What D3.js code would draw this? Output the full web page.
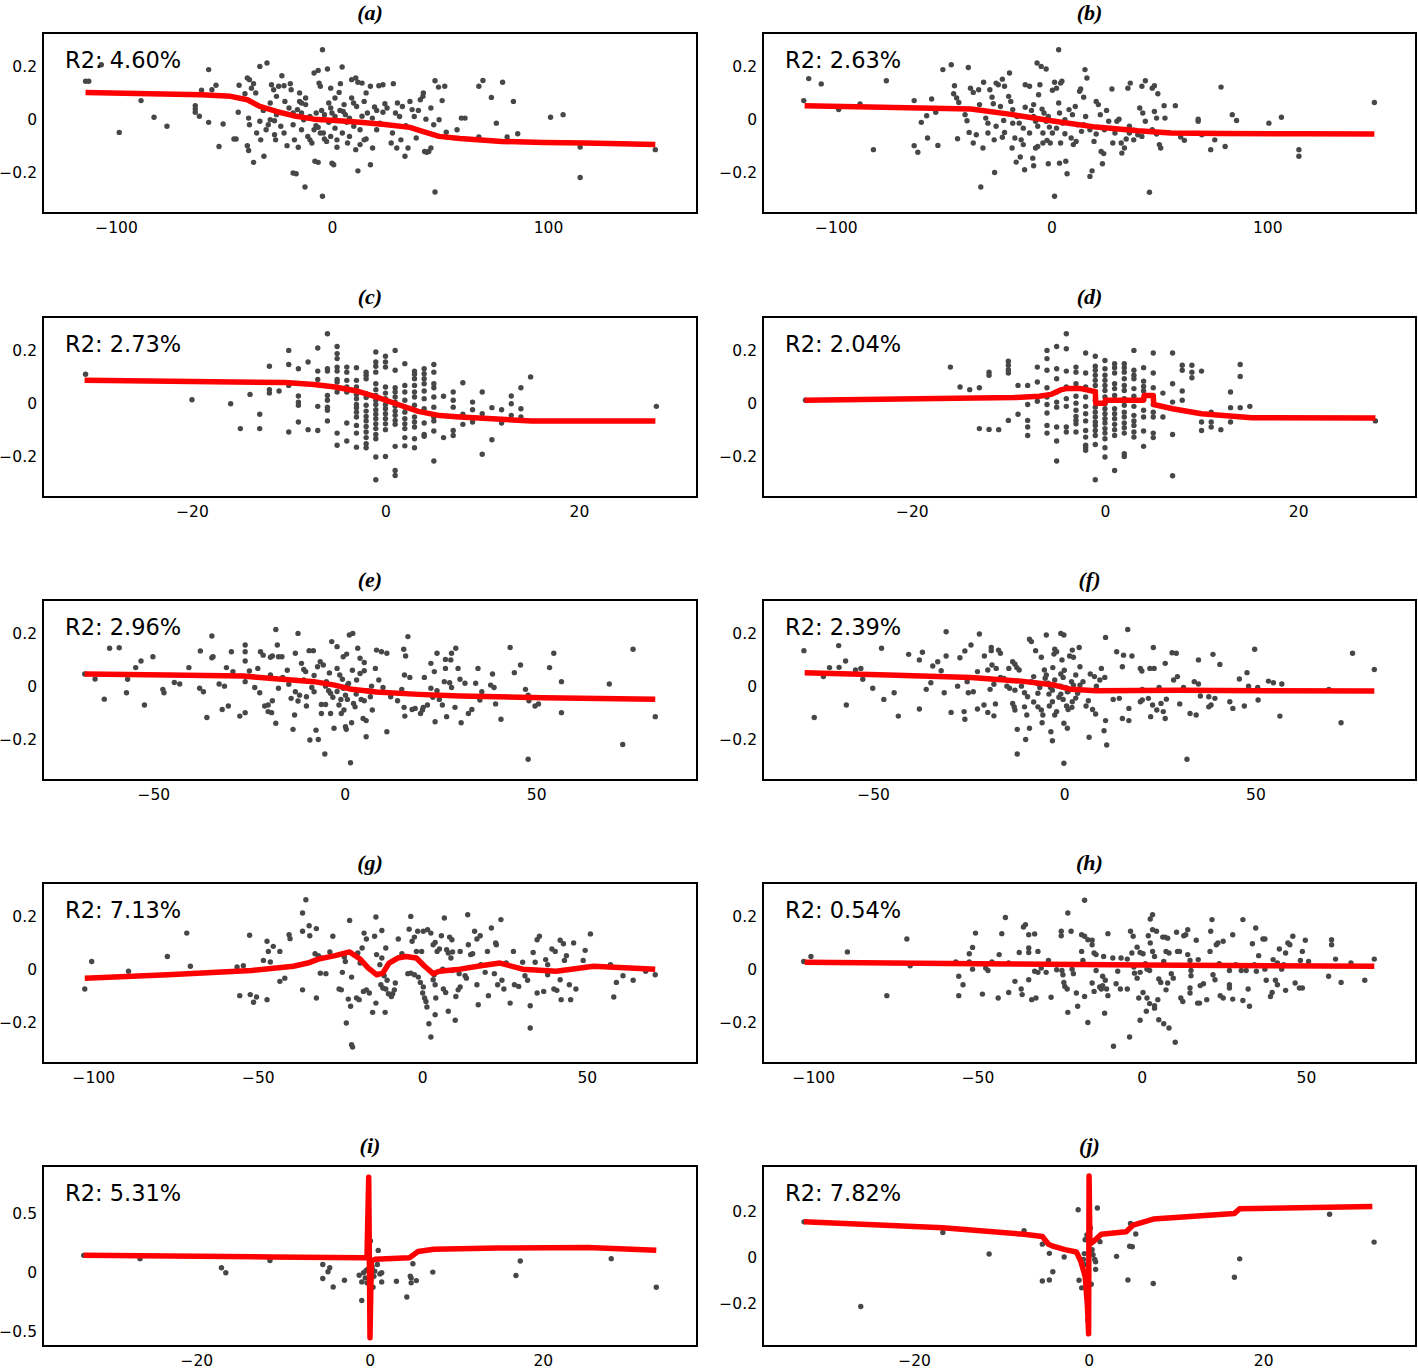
<!DOCTYPE html>
<html><head><meta charset="utf-8">
<script src="https://cdn.jsdelivr.net/npm/d3@7"></script>
<style>body{margin:0;background:#fff}</style>
</head><body>
<script>
// ---------------- DATA ----------------
const titles = ["(a)","(b)","(c)","(d)","(e)","(f)","(g)","(h)","(i)","(j)"];
const r2Labels = ["R2: 4.60%","R2: 2.63%","R2: 2.73%","R2: 2.04%","R2: 2.96%","R2: 2.39%","R2: 7.13%","R2: 0.54%","R2: 5.31%","R2: 7.82%"];

const xTicksAB = [-100, 0, 100];
const xTicksCD = [-20, 0, 20];
const xTicksEF = [-50, 0, 50];
const xTicksGH = [-100, -50, 0, 50];
const xTicksIJ = [-20, 0, 20];
const yTicksMain = [-0.2, 0, 0.2];
const yTicksI = [-0.5, 0, 0.5];
const yTicksJ = [-0.2, 0, 0.2];

const xDomainAB = [-133.8, 169];
const xDomainCD = [-35.4, 32.2];
const xDomainEF = [-78.8, 92];
const xDomainGH = [-115.3, 83.5];
const xDomainI = [-37.7, 37.8];
const xDomainJ = [-37.3, 37.5];
const yDomainMain = [-0.354, 0.325];
const yDomainI = [-0.62, 0.905];
const yDomainJ = [-0.383, 0.4];

const pointsA = [[-114.1,0.143],[-112.6,0.143],[-106.8,0.205],[-98.5,-0.050],[-88.4,0.070],[-82.4,0.007],[-76.4,-0.027],
[-63.3,0.051],[-63.3,0.038],[-63.3,0.026],[-61.4,0.011],[-60.4,0.109],[-57.1,0.187],[-57.1,-0.012],[-55.6,0.111],[-53.7,0.128],[-52.3,-0.103],[-50.4,-0.018],[-45.4,-0.075],[-44.4,-0.075],[-43.4,0.026],[-43.0,0.128],[-40.3,0.096],[-39.2,0.155],[-38.2,0.149],[-38.6,0.004],[-38.2,-0.021],[-39.2,-0.100],[-38.6,-0.118],[-37.3,0.117],[-36.3,0.134],[-36.3,-0.163],[-35.3,0.099],[-34.9,-0.052],[-33.4,0.199],[-30.1,0.212],[-33.4,-0.008],[-33.0,-0.078],[-31.8,0.033],[-28.6,0.061],[-31.5,-0.140],[-28.0,0.130],[-27.0,0.111],[-28.6,-0.002],[-26.6,-0.006],[-26.6,-0.059],[-26.1,-0.078],[-25.7,0.086],[-24.7,0.124],[-22.2,0.126],[-23.2,0.164],[-23.7,-0.027],[-22.2,-0.052],[-20.8,-0.100],[-19.3,0.134],[-18.9,0.111],[-18.0,-0.203],[-16.6,-0.206],[-17.4,-0.078],[-15.6,-0.106],[-15.0,0.067],[-14.1,0.061],[-12.2,0.055],[-14.1,0.023],[-12.5,-0.256],[-11.2,-0.065],[-10.2,-0.078],[-9.3,-0.090],[-8.3,0.174],[-6.4,0.184],[-7.4,-0.025],[-6.4,-0.031],[-6.0,0.136],[-5.4,0.124],[-7.9,-0.159],[-6.4,-0.163],[-4.4,0.262],[-4.4,-0.291],[-4.0,-0.052],[-3.5,-0.075],[-2.5,-0.084],[-2.1,0.189],[-1.5,0.061],[-0.6,0.042],[0,0.023],[-0.6,0.117],[0,-0.166],[0.8,-0.172],[1.4,-0.034],[2.3,-0.106],[3.3,0.101],[3.9,0.134],[4.7,0.197],[5.2,0.029],[6.2,0.017],[6.8,-0.012],[8.1,-0.065],[9.1,0.149],[11,0.155],[12,0.139],[10,0.061],[11.4,0.048],[11,-0.115],[12,-0.195],[13.9,0.136],[15.8,0.099],[13.9,0.011],[14.9,-0.078],[15.8,-0.075],[17.8,-0.172],[18.8,-0.109],[19.7,0.046],[20.7,0.033],[17.8,0.124],[21.7,0.126],[23.6,0.130],[22.2,-0.015],[24.5,0.058],[27.4,-0.090],[28.4,0.134],[29.4,0.023],[30.3,0.061],[30,-0.109],[32.6,0.048],[31.9,-0.078],[33.8,-0.140],[35.2,-0.109],[36.1,0.067],[37.1,0.036],[39,-0.071],[40.9,0.073],[42.3,0.099],[42.1,0.086],[43.5,0],[42.9,-0.122],[43.9,-0.125],[44.8,-0.122],[45.8,-0.109],[45.8,0.042],[47.1,-0.021],[47.7,0.145],[49.3,0.121],[47.7,-0.275],[49.6,-0.002],[51,0.070],[52.2,0.124],[52.9,-0.049],[57.9,-0.040],[59.9,0.004],[61.6,0.004],[68,-0.067],[68,0.124],[69.9,0.146],[73.8,0.082],[76.1,-0.015],[79,0.139],[81.1,-0.067],[84,0.067],[86,-0.055],[101.2,0.007],[107,0.017],[114.9,-0.105],[114.9,-0.220],[149.7,-0.115],
[-21.8,0.067],[-19.9,0.042],[-18.0,0.023],[-16.0,0.036],[-13.1,-0.002],[-10.2,0.010],[-7.3,0.023],[-4.8,0.033],[-3.5,0.017],[-1.5,-0.012],[1.4,0.010],[3.7,0.033],[5.6,0.055],[8.1,0.004],[10.1,-0.027],[13.0,-0.040],[16.4,0.023],[18.7,0.004],[20.7,-0.040],[23.6,0.026],[25.5,0.042],[28.0,-0.052],[31.3,0.010],[34.2,-0.025],[38.1,0.010],[40.0,0.033],[-8.3,-0.040],[-5.4,-0.052],[-0.6,-0.065],[2.3,-0.078],[4.8,-0.052],[7.2,-0.090],[13.0,-0.096],[-14.1,-0.040],[-18.0,-0.021],[-25.7,0.017],[-29.5,-0.021],[-30.5,-0.040],[-15.0,0.099],[-12.2,0.080],[1.4,0.080],[9.1,0.080],[14.9,0.067]];

const fitA = [[-114.1,0.101],[-60.4,0.092],[-46.9,0.086],[-39.2,0.073],[-33.4,0.048],[-25.7,0.029],[-18,0.013],[-8.3,0.0],[1.4,-0.005],[13,-0.012],[24.5,-0.020],[36.1,-0.031],[41.9,-0.046],[49.6,-0.065],[59.3,-0.073],[78.6,-0.084],[97.9,-0.088],[117.2,-0.090],[149.7,-0.096]];

const pointsB = [[-114.9,0.070],[-112.6,0.153],[-106.8,0.133],[-98.7,0.036],[-88.8,0.057],[-82.6,-0.115],[-76.6,0.145],
[-63.7,0.070],[-63.7,-0.100],[-62,-0.125],[-60.4,-0.012],[-57.9,0.013],[-57.5,-0.071],[-55.6,0.076],[-53.7,0.026],[-52.7,-0.099],[-50.4,0.187],[-46.5,0.205],[-45,0.126],[-45.4,0.096],[-44,0.080],[-43.6,-0.074],[-43,0.063],[-40.1,0.017],[-39.2,-0.006],[-38.6,0.195],[-38.2,-0.050],[-37.6,0.117],[-36.3,0.101],[-36.3,-0.090],[-34.9,-0.059],[-33.8,0.111],[-33.4,0.055],[-32.8,-0.256],[-31.8,-0.109],[-31.5,0.139],[-30.5,0.004],[-29.5,-0.015],[-28.6,0.111],[-27.6,0.083],[-27,0.058],[-26.6,-0.078],[-26.4,-0.201],[-25.7,0.136],[-24.7,0.130],[-22.8,0.151],[-21.8,0.124],[-23.7,0.048],[-22.2,-0.005],[-22.8,-0.068],[-21.8,-0.050],[-19.5,0.174],[-19.9,0.086],[-18.9,0.067],[-18.3,-0.109],[-17,-0.071],[-16,0.010],[-16.4,-0.162],[-14.5,-0.143],[-13.1,-0.096],[-12.2,0.045],[-12.2,0.130],[-10.2,0.124],[-12.5,-0.191],[-9.3,0.033],[-8.3,0.010],[-7.4,-0.008],[-8.7,-0.147],[-8.3,-0.176],[-7.4,-0.109],[-6.4,-0.103],[-6.7,0.212],[-4.8,0.199],[-2.5,0.189],[-6,0.092],[-5.4,0.130],[-4.4,0.038],[-3.5,0.023],[-2.5,-0.008],[-1,-0.030],[-4,-0.090],[-2.1,-0.080],[-0.6,-0.090],[-1.5,-0.168],[1.4,-0.291],[0.4,0.109],[1.4,0.139],[2.3,0.117],[3.3,0.262],[3.7,-0.166],[6.6,-0.159],[4.2,0.136],[4.8,0.143],[3.3,0.061],[3.7,0.023],[5.2,-0.015],[6.2,-0.055],[7.2,-0.206],[9.1,-0.071],[10.1,-0.096],[11.4,-0.084],[9.7,0.017],[13,0.105],[13.5,0.114],[13.9,-0.046],[14.9,-0.021],[15.5,0.187],[16.4,0.155],[14.9,0.083],[17.8,-0.216],[18.8,-0.195],[19.7,-0.084],[20.7,-0.056],[20.7,0.067],[21.7,0.055],[22.6,0.017],[23,-0.122],[24.2,-0.130],[23.6,-0.168],[25.5,0.033],[26.5,-0.008],[28,0.114],[28.4,-0.090],[30.3,-0.008],[31.3,0],[32.6,-0.128],[33.8,-0.109],[34.6,-0.075],[35.4,0.117],[36.5,0.136],[36.1,-0.052],[38.1,-0.042],[40,-0.059],[41.9,-0.065],[40.9,0.042],[42.3,0.023],[43.5,-0.008],[41.9,0.124],[43.5,0.145],[45.4,-0.276],[46.7,0.117],[47.7,0.126],[49.3,0.096],[46.7,-0.040],[48.7,-0.056],[47.7,0.029],[48.7,0.004],[50,-0.096],[50.6,-0.109],[52.2,0.051],[57.4,0.051],[52.6,0.004],[59.9,-0.067],[61.6,-0.080],[68,0],[68,-0.008],[69.7,-0.059],[73.8,-0.115],[75.7,-0.078],[78.6,0.121],[80.5,-0.103],[83.8,0.017],[85.8,-0.005],[100.8,-0.015],[106.6,0.007],[114.7,-0.115],[114.7,-0.140],[149.7,0.063],
[-18.0,0.036],[-15.0,-0.015],[-13.1,-0.034],[-10.2,-0.052],[-8.3,0.055],[-6.4,-0.027],[-4.0,-0.052],[-1.5,0.010],[0.4,-0.052],[2.3,-0.034],[4.2,-0.090],[6.2,-0.002],[8.1,0.036],[11,0.048],[12,-0.021],[15.8,0.010],[17.8,-0.040],[24.5,-0.040],[29.4,-0.052],[32.3,-0.090],[36.1,-0.027],[38.1,-0.078],[-14.1,-0.078],[-25.7,-0.027],[-29.5,-0.052],[-18.0,-0.015]];

const fitB = [[-114.5,0.051],[-37.3,0.038],[-18,0.017],[1.4,-0.008],[20.7,-0.030],[40,-0.044],[55.4,-0.052],[78.6,-0.054],[117.2,-0.055],[149.7,-0.056]];

// panel (c): predictor takes integer values; each entry = [x, list of y values in that column]
const columnsC = [[-31,[0.109]],[-20,[0.013]],[-16,[-0.002]],[-15,[-0.096]],[-14,[0.033]],[-13,[-0.042,-0.096]],[-12,[0.139,0.051,0.038]],[-11,[0.046]],
[-10,[0.199,0.146,0.067,-0.109]],[-9,[0.130,0.027,0.004,-0.008,-0.071]],[-8,[0.155,-0.100]],[-7,[0.208,0.121,0.089,-0.012,-0.103]],
[-6,[0.262,0.130,0.121,0.029,0.011,-0.015,-0.027,-0.067]],[-5,[0.214,0.187,0.168,0.136,0.121,0.089,0.080,0.042,-0.113,-0.159]],
[-4,[0.136,0.117,0.086,0.061,0.042,-0.075,-0.143]],[-3,[0.134,0.086,0.061,0.033,0.017,-0.005,-0.017,-0.034,-0.052,-0.084,-0.113,-0.166]],
[-2,[0.117,0.105,0.092,0.036,0.021,-0.008,-0.030,-0.050,-0.067,-0.088,-0.109,-0.130,-0.153,-0.168]],
[-1,[0.193,0.155,0.139,0.117,0.073,0.051,0.029,0.011,-0.005,-0.025,-0.042,-0.059,-0.078,-0.096,-0.118,-0.134,-0.203,-0.289]],
[0,[0.177,0.155,0.136,0.061,0.038,0.017,-0.005,-0.021,-0.040,-0.059,-0.078,-0.100,-0.201]],
[1,[0.199,0.124,0.058,0.042,0.023,0.004,-0.012,-0.030,-0.046,-0.065,-0.080,-0.163,-0.254,-0.273]],
[2,[0.149,0.067,0.042,0.011,-0.015,-0.034,-0.059,-0.078,-0.096,-0.130,-0.161]],
[3,[0.121,0.109,0.092,0.067,0.042,0.023,-0.008,-0.052,-0.071,-0.090,-0.134,-0.168]],
[4,[0.130,0.111,0.092,0.073,0.046,0.017,-0.021,-0.075,-0.118,-0.125]],
[5,[0.146,0.117,0.073,0.058,0.023,-0.015,-0.052,-0.067,-0.105,-0.218]],
[6,[0.026,-0.130]],[7,[0.042,0.011,-0.015,-0.103,-0.122]],[8,[0.077,-0.042,-0.080]],[9,[0.004,-0.025,-0.071]],[10,[0.042,-0.040,-0.193]],
[11,[-0.017,-0.138]],[12,[-0.025,-0.075]],[13,[0.027,-0.002,-0.046]],[14,[0.058,-0.021,-0.052]],[15,[0.099]],[28,[-0.012]]];

const fitC = [[-31.1,0.086],[-10.4,0.078],[-7.4,0.070],[-5.2,0.061],[-3.0,0.046],[-0.9,0.023],[1.3,-0.005],[3.4,-0.031],[5.6,-0.047],[7.7,-0.052],[12.0,-0.061],[15.1,-0.067],[27.9,-0.067]];

const columnsD = [[-31,[0.011]],[-16,[0.136]],[-15,[0.061]],[-14,[0.051]],[-13,[0.058,-0.096]],[-12,[0.117,0.105,-0.099]],[-11,[-0.100]],
[-10,[0.158,0.143,0.126,0.114,-0.065]],[-9,[0.067,-0.042]],[-8,[0.067,-0.005,-0.065,-0.090,-0.122]],[-7,[0.136,0.080,0.007]],
[-6,[0.199,0.168,0.124,0.058,0.023,-0.005,-0.037,-0.084,-0.113]],
[-5,[0.214,0.130,0.092,0.042,0.004,-0.015,-0.090,-0.143,-0.218]],
[-4,[0.262,0.205,0.121,0.061,0.017,-0.012,-0.090,-0.109]],
[-3,[0.136,0.117,0.073,0.026,0.0,-0.027,-0.050,-0.065,-0.078,-0.109]],
[-2,[0.189,0.114,0.061,0.023,-0.012,-0.040,-0.067,-0.103,-0.128,-0.159,-0.168,-0.178]],
[-1,[0.177,0.139,0.124,0.105,0.086,0.067,0.042,0.011,-0.015,-0.034,-0.052,-0.071,-0.084,-0.103,-0.122,-0.156,-0.289]],
[0,[0.161,0.130,0.105,0.086,0.067,0.048,0.023,-0.002,-0.021,-0.040,-0.059,-0.075,-0.096,-0.113,-0.134,-0.168,-0.203]],
[1,[0.149,0.134,0.114,0.073,0.055,0.029,0.011,-0.021,-0.040,-0.059,-0.080,-0.100,-0.122,-0.254]],
[2,[0.149,0.134,0.117,0.092,0.067,0.048,0.017,-0.008,-0.034,-0.052,-0.075,-0.093,-0.113,-0.191,-0.201]],
[3,[0.199,0.124,0.105,0.092,0.055,0.026,-0.012,-0.046,-0.067,-0.084,-0.109,-0.128]],
[4,[0.134,0.083,0.063,0.046,0.013,-0.027,-0.052,-0.105,-0.163]],
[5,[0.189,0.114,0.058,-0.005,-0.034,-0.052,-0.113,-0.130]],
[6,[0.038,-0.052]],[7,[0.189,0.073,0.004,-0.118,-0.274]],[8,[0.143,0.124,0.046,0.011]],[9,[0.143,0.117,0.096]],[10,[0.121,-0.071,-0.103]],
[11,[-0.034,-0.071,-0.090]],[12,[-0.100]],[13,[0.042,-0.017,-0.071]],[14,[0.146,0.101,-0.017]],[15,[-0.012]],[28,[-0.067]]];

const fitD = [[-31.1,0.011],[-9.4,0.021],[-6.8,0.026],[-5.6,0.033],[-4.6,0.050],[-4.0,0.055],[-2.5,0.055],[-1.3,0.046],[-1.0,0.044],[-0.95,0.0],[0,0.0],[0.05,0.011],[4.0,0.011],[4.05,0.029],[5.0,0.029],[5.05,-0.005],[7,-0.021],[10,-0.040],[15.2,-0.055],[28,-0.056]];

const pointsE = [[-67.9,0.046],[-65.2,0.027],[-62.8,-0.049],[-61.4,0.143],[-58.9,0.145],[-57.0,-0.025],[-56.7,0.026],[-54.6,0.070],[-53.2,0.095],[-52.3,-0.071],[-50.1,0.111],[-47.5,-0.012],[-47.2,-0.025],[-44.5,0.014],[-43.1,0.008],[-40.7,0.070],[-37.7,0.133],[-37.9,-0.008],[-36.9,-0.021],[-36.0,-0.118],[-34.7,0.189],[-34.7,0.107],[-34.4,0.111],[-32.8,0.008],[-31.4,0.0],[-32.0,-0.088],[-30.4,-0.075],[-30.9,0.070],[-29.6,0.130],[-29.2,0.055],[-27.4,-0.113],[-26.0,-0.100],[-26,0.155],[-26,0.130],[-26,0.095],[-26,0.017],[-24.9,0.057],[-23.5,-0.005],[-22.7,0.067],[-22.0,0.130],[-21.3,0.117],[-22.2,-0.025],[-20.9,-0.075],[-20.0,-0.071],[-20,-0.096],[-19.1,-0.100],[-19.4,0.109],[-18.9,0.114],[-19.4,0.042],[-18.9,-0.055],[-18.0,0.214],[-18.0,-0.140],[-17.6,0.155],[-17.3,0.111],[-16.4,0.111],[-17.3,-0.008],[-16.2,0.033],[-14.6,0.007],[-14.0,-0.046],[-13.5,-0.163],[-12.9,0.124],[-12.2,0.199],[-12.9,-0.021],[-11.8,-0.034],[-12.2,-0.056],[-13.1,-0.109],[-11.3,0.086],[-10.7,0.063],[-10.2,0.055],[-10.7,0.023],[-10.0,-0.075],[-9.3,0.134],[-8.2,0.134],[-9.1,-0.203],[-6.9,-0.201],[-8.6,-0.005],[-8.0,-0.021],[-7.5,-0.166],[-7.1,0.073],[-6.4,0.092],[-5.6,0.080],[-6.1,-0.069],[-5.0,-0.069],[-6.1,-0.103],[-3.7,-0.103],[-5.2,-0.256],[-4.8,0.017],[-4.2,-0.017],[-3.7,-0.027],[-3.1,-0.042],[-3.4,0.168],[-2.8,-0.159],[-2.0,0.149],[-0.4,0.111],[0.5,0.121],[-2.0,0.067],[-1.3,0.042],[-0.6,0.026],[-1.5,-0.071],[-0.9,-0.103],[-0.2,-0.090],[-0.4,-0.008],[0.2,-0.034],[0.7,-0.050],[0.2,-0.153],[0.4,-0.163],[0.7,0.004],[1.5,-0.289],[1.2,0.193],[2.1,0.199],[1.8,-0.138],[2.3,-0.065],[2.7,-0.078],[3.1,0.023],[4.0,0.048],[5.1,0.058],[3.4,0.143],[4.0,0.105],[5.1,0.089],[4.3,-0.050],[5.1,-0.055],[4.8,-0.122],[5.6,-0.130],[5.6,-0.191],[6.0,-0.017],[6.7,-0.040],[7.2,-0.090],[8.0,0.067],[8.3,0.136],[9.6,0.130],[11.0,0.124],[8.9,0.023],[10.0,-0.005],[11.0,-0.172],[13.8,-0.055],[14.9,-0.012],[15.4,0.139],[15.9,0.114],[15.6,0.042],[17.0,0.033],[15.5,-0.080],[15.7,-0.113],[16.5,0.187],[17.6,-0.088],[18.4,-0.084],[19.8,-0.103],[20.3,-0.090],[20.5,-0.080],[21.6,-0.071],[20.8,0.033],[22.5,-0.008],[23.0,-0.042],[24.1,-0.017],[22.5,0.086],[23.4,0.055],[24.1,0.124],[23.6,-0.134],[24.7,-0.050],[25.5,-0.071],[26.0,0.017],[26.3,0.067],[26.3,0.101],[27.7,0.099],[29.0,0.143],[27.9,0.124],[26.6,-0.115],[27.4,0.013],[27.9,-0.005],[28.8,-0.080],[29.6,0.067],[30.1,0.026],[31.4,0.011],[30.4,-0.138],[32.3,-0.103],[33.2,-0.088],[34.8,0.067],[34.2,0.011],[35.3,-0.052],[35.8,-0.021],[38.1,0.004],[38.6,0.046],[39.0,-0.005],[39.4,-0.067],[40.8,-0.125],[43.2,0.146],[44.3,0.051],[45.9,0.080],[47.2,-0.012],[47.9,-0.034],[48.1,-0.055],[47.9,-0.276],[49.7,-0.075],[50.6,-0.067],[53.5,0.070],[54.6,0.124],[56.6,0.017],[56.6,-0.100],[69.1,0.008],[72.6,-0.220],[75.3,0.139],[81.1,-0.115],
[-8,0.04],[-5,0.0],[-2,-0.02],[1,0.01],[3,-0.03],[-10,-0.04],[-1,-0.05],[2,0.06],[-4,0.05],[7,0.0],[-15,0.06],[12,-0.04]];

const fitE = [[-67.9,0.046],[-46.1,0.042],[-26.5,0.038],[-18.9,0.029],[-8.0,0.017],[-2.6,0.004],[1.8,-0.012],[8.3,-0.022],[19.2,-0.031],[30.1,-0.037],[51.9,-0.044],[81.1,-0.049]];

const pointsF = [[-68.1,0.134],[-65.4,-0.118],[-63.0,0.036],[-61.4,0.070],[-58.9,0.071],[-59.0,0.153],[-57.2,0.095],[-57.0,-0.071],[-54.6,0.061],[-53.2,0.067],[-52.7,0.026],[-50.1,-0.008],[-47.8,0.143],[-47.2,-0.050],[-44.5,-0.025],[-43.4,-0.113],[-40.7,0.120],[-37.9,0.099],[-37.1,0.128],[-37.9,-0.086],[-36.1,-0.012],[-34.9,0.013],[-34.4,0.076],[-33.1,0.092],[-32.2,0.058],[-31.4,-0.025],[-30.9,0.205],[-30.9,0.114],[-29.6,-0.099],[-27.9,0.0],[-27.3,0.107],[-26.0,0.133],[-26.2,-0.096],[-26.0,-0.125],[-25.4,0.017],[-25.1,-0.025],[-23.8,-0.021],[-24.4,0.155],[-22.7,0.055],[-22.2,0.197],[-22.7,-0.086],[-21.0,-0.071],[-20.0,-0.099],[-18.4,-0.112],[-20.9,0.114],[-19.1,0.146],[-19.1,0.134],[-20.0,0.061],[-18.9,0.080],[-17.8,0.067],[-19.4,-0.012],[-18.4,0.007],[-18.0,-0.067],[-17.2,0.136],[-16.7,0.124],[-16.7,0.033],[-15.8,0.029],[-15.0,0.0],[-14.5,0.067],[-14.3,-0.008],[-13.5,0.092],[-12.9,0.083],[-12.4,0.070],[-13.5,-0.065],[-13.1,-0.078],[-12.9,-0.090],[-12.9,-0.015],[-12.3,-0.163],[-12.3,-0.256],[-11.8,0.061],[-11.2,0.0],[-10.4,-0.078],[-10.4,-0.025],[-9.6,-0.040],[-10.1,-0.201],[-9.8,-0.109],[-9.1,0.177],[-8.6,0.168],[-9.1,-0.159],[-8.6,0.017],[-8.0,0.036],[-7.5,0.134],[-6.9,-0.027],[-6.4,-0.005],[-6.9,-0.078],[-6.0,-0.090],[-5.6,-0.109],[-6.0,0.109],[-5.8,-0.138],[-5.2,0.061],[-4.7,0.042],[-4.7,0.193],[-4.2,0.011],[-3.6,-0.005],[-3.1,-0.015],[-3.9,-0.075],[-3.1,-0.059],[-3.5,-0.172],[-3.1,-0.206],[-2.7,0.121],[-2.5,0.139],[-2.0,0.130],[-2.5,0.023],[-2.5,-0.109],[-2.0,-0.096],[-1.4,-0.042],[-0.9,-0.030],[-0.3,-0.050],[-0.9,0.199],[-0.1,0.193],[-0.9,0.046],[-0.3,0.033],[-0.6,0.099],[-0.1,-0.291],[-0.1,-0.140],[0.8,-0.159],[0.3,-0.005],[0.8,-0.021],[0.6,-0.075],[1.0,-0.088],[1.4,0.114],[2.1,0.136],[2.4,0.109],[1.9,0.017],[2.4,0.004],[2.1,-0.059],[3.0,0.042],[4.1,0.073],[3.9,0.146],[3.5,-0.027],[4.1,0.004],[4.9,0.017],[5.7,-0.075],[6.3,-0.055],[6.5,-0.193],[6.8,0.046],[7.9,0.036],[7.4,-0.088],[8.2,-0.105],[8.4,0.0],[9.3,0.023],[9.7,0.067],[10.4,-0.168],[10.6,0.033],[10.8,0.184],[11.1,-0.222],[10.8,-0.130],[12.8,-0.050],[13.7,0.130],[14.4,-0.046],[15.2,0.073],[15.2,-0.122],[15.5,0.117],[16.9,-0.130],[16.6,0.214],[17.7,0.114],[16.9,-0.084],[19.9,0.067],[20.3,0.057],[19.9,-0.059],[20.4,-0.052],[20.4,-0.012],[22.0,-0.046],[23.1,-0.071],[22.4,0.067],[23.5,0.067],[22.6,-0.115],[23.3,0.146],[24.2,-0.090],[25.3,-0.065],[24.8,-0.005],[25.9,-0.096],[26.4,-0.122],[26.4,0.086],[26.7,-0.049],[28.2,0.126],[29.3,0.124],[28.6,0.023],[29.6,0.036],[30.2,-0.067],[31.2,-0.005],[32.1,-0.276],[32.9,-0.103],[34.5,-0.109],[34.0,0.017],[35.1,0.008],[35.1,0.099],[35.6,-0.037],[37.8,-0.040],[39.4,-0.046],[37.8,-0.078],[38.4,-0.071],[38.9,0.120],[40.7,0.082],[43.3,-0.059],[44.1,-0.084],[45.8,0.027],[47.1,-0.075],[47.8,0.051],[48.2,0.0],[49.8,0.139],[50.6,-0.005],[50.7,-0.052],[53.4,0.019],[54.7,0.013],[56.9,0.008],[56.4,-0.113],[69.2,-0.012],[72.4,-0.138],[75.4,0.124],[81.1,0.063],
[-7,0.01],[-4,-0.03],[-1,0.0],[1,-0.02],[3,-0.045],[-5,0.03],[-8,-0.06],[0,0.06],[2,-0.08],[-3,0.07]];

const fitF = [[-67.9,0.051],[-46.1,0.042],[-24.4,0.033],[-11.3,0.019],[-2.6,0.004],[1.8,-0.012],[8.3,-0.017],[30.1,-0.015],[51.9,-0.017],[81.1,-0.018]];

const pointsG = [[-102.6,-0.075],[-100.5,0.029],[-89.3,-0.008],[-77.5,0.048],[-71.6,0.136],[-70.5,0.011],[-56.3,0.008],[-54.4,0.013],[-55.5,-0.100],[-52.3,-0.096],[-50.4,-0.105],[-51.3,-0.125],[-52.5,0.128],[-48.3,0.033],[-46.8,0.067],[-46.2,0.027],[-47.2,0.105],[-45.3,0.086],[-47.2,-0.115],[-43.3,-0.046],[-41.8,-0.034],[-43.3,0.067],[-40.5,0.130],[-40.2,0.115],[-36.4,-0.078],[-36.4,0.212],[-35.4,0.262],[-36.4,0.143],[-34.4,0.164],[-32.2,0.153],[-34.2,0.126],[-32.6,0.058],[-31.6,0.051],[-30.6,0.042],[-32.2,-0.109],[-31.0,-0.015],[-29.3,-0.017],[-28.1,0.065],[-27.2,0.124],[-25.3,-0.075],[-24.6,-0.078],[-24.3,-0.012],[-23.7,0.046],[-23.4,0.029],[-23.1,-0.203],[-22.5,-0.113],[-21.8,-0.140],[-22.1,0.184],[-21.5,-0.285],[-21.2,-0.294],[-21.5,-0.030],[-20.0,-0.109],[-19.2,-0.115],[-19.6,0.061],[-18.9,0.023],[-18.3,0.080],[-17.7,0.136],[-17.0,0.114],[-17.9,-0.084],[-17.0,-0.078],[-16.1,-0.090],[-15.1,-0.163],[-14.5,0.124],[-14.1,0.197],[-14.1,-0.128],[-13.9,0.055],[-12.9,0.017],[-12.3,0.042],[-12.6,-0.059],[-12.0,-0.071],[-11.1,-0.075],[-12.3,0.146],[-11.6,-0.025],[-10.7,-0.042],[-11.3,-0.163],[-11.1,0.080],[-10.3,-0.093],[-9.0,-0.093],[-8.5,-0.078],[-9.4,-0.103],[-8.2,-0.052],[-7.3,0.114],[-6.2,0.058],[-4.4,-0.017],[-3.5,-0.015],[-2.4,-0.021],[-4.0,0.151],[-3.5,0.199],[-3.1,0.105],[-2.4,0.121],[-1.4,0.143],[-1.8,0.067],[-1.2,-0.030],[-0.6,-0.050],[-0.2,0.067],[0.3,0.143],[0.1,-0.090],[0.3,-0.067],[0.7,-0.109],[1.1,-0.122],[1.4,-0.143],[1.6,0.149],[2.6,0.136],[2.0,-0.206],[2.6,-0.256],[3.3,0.092],[3.9,0.101],[3.3,-0.040],[3.9,-0.059],[3.6,-0.021],[3.9,-0.172],[4.1,-0.109],[4.5,0.067],[5.2,0.076],[5.8,0.126],[6.7,0.193],[6.2,0.0],[6.4,-0.075],[7.1,-0.088],[7.4,0.073],[7.9,0.061],[8.3,0.121],[9.0,0.111],[7.9,-0.159],[8.7,0.042],[9.2,0.065],[9.0,-0.005],[10.0,-0.193],[10.9,-0.078],[11.5,-0.067],[10.2,-0.103],[11.2,-0.017],[11.5,0.067],[13.0,-0.025],[13.4,-0.034],[13.8,0.205],[14.0,0.092],[14.7,0.055],[15.3,0.058],[15.9,0.143],[16.6,0.114],[17.6,0.126],[16.6,-0.059],[17.0,-0.134],[17.8,0.017],[19.1,-0.012],[20.1,-0.100],[19.8,0.067],[21.0,0.155],[22.3,0.099],[22.5,0.092],[21.9,-0.017],[22.9,-0.059],[23.9,0.187],[24.2,-0.042],[24.8,-0.075],[25.5,0.023],[26.7,-0.128],[27.7,0.067],[28.0,-0.059],[29.3,-0.065],[30.5,0.026],[31.2,-0.025],[32.0,-0.042],[32.8,-0.138],[32.8,-0.222],[33.7,0.063],[34.3,0.026],[34.9,0.111],[35.6,0.124],[34.9,-0.090],[36.9,-0.084],[38.1,-0.021],[37.5,0.036],[38.1,0.017],[39.4,0.076],[40.4,0.067],[40.0,-0.075],[40.9,-0.080],[41.9,0.109],[42.9,0.096],[41.9,-0.040],[42.2,-0.115],[43.2,0.033],[43.8,0.051],[44.7,-0.059],[45.1,-0.115],[46.0,0.099],[46.7,-0.075],[48.9,0.033],[49.5,0.071],[51.1,0.133],[57.2,0.017],[58.2,-0.105],[59.0,-0.050],[61.0,-0.025],[64.1,-0.042],[67.9,-0.008],[70.8,-0.021]];

const fitG = [[-102.6,-0.034],[-77.3,-0.021],[-51.9,-0.005],[-39.2,0.011],[-34.8,0.023],[-31.6,0.038],[-26.5,0.051],[-22.1,0.065],[-18.9,0.038],[-16.4,0.004],[-13.9,-0.021],[-12.0,-0.015],[-10.1,0.023],[-7.5,0.042],[-5.0,0.048],[-1.8,0.042],[0.7,0.011],[3.3,-0.017],[5.2,-0.008],[11.5,0.0],[17.8,0.013],[23.6,0.023],[30.5,0.0],[40.7,-0.008],[52.1,0.011],[70.8,0.0]];

const pointsH = [[-102.9,0.029],[-100.7,0.048],[-89.6,0.065],[-77.6,-0.100],[-71.5,0.114],[-70.5,0.013],[-56.6,0.027],[-55.7,-0.027],[-55.7,-0.100],[-54.4,-0.059],[-52.5,0.058],[-52.5,0.027],[-51.5,0.082],[-51.5,0.0],[-50.6,0.136],[-48.5,-0.094],[-47.5,0.004],[-46.8,-0.005],[-45.6,0.027],[-43.7,-0.109],[-43.4,0.055],[-42.6,0.134],[-41.5,0.195],[-40.5,0.023],[-40.5,-0.088],[-38.6,-0.046],[-37.3,0.063],[-36.7,-0.075],[-36.4,-0.096],[-36.0,0.159],[-35.4,0.168],[-34.4,0.130],[-32.6,0.133],[-34.4,0.080],[-34.4,0.063],[-34.4,-0.040],[-33.5,-0.115],[-32.2,-0.109],[-32.6,-0.008],[-31.6,-0.012],[-31.6,0.067],[-30.6,0.004],[-29.1,-0.012],[-28.4,0.033],[-27.6,-0.106],[-25.9,-0.002],[-24.3,-0.005],[-24.5,0.143],[-24.5,0.126],[-24.0,-0.021],[-23.7,-0.050],[-23.4,-0.065],[-22.7,-0.075],[-22.5,0.212],[-22.5,-0.163],[-21.5,0.143],[-21.2,0.0],[-20.8,-0.017],[-19.9,-0.090],[-19.5,-0.140],[-18.3,0.130],[-17.4,0.124],[-16.4,0.111],[-15.1,0.109],[-18.3,0.067],[-17.9,0.033],[-17.4,-0.103],[-16.4,-0.201],[-17.4,0.260],[-15.1,0.092],[-14.5,0.061],[-13.9,0.055],[-15.1,-0.052],[-14.5,-0.084],[-13.9,-0.005],[-12.8,-0.067],[-12.3,-0.075],[-11.9,-0.062],[-11.9,-0.027],[-11.1,-0.042],[-11.6,0.048],[-11.3,-0.166],[-10.7,-0.075],[-10.3,-0.100],[-10.3,0.134],[-8.8,0.042],[-7.8,-0.055],[-8.6,-0.291],[-7.3,-0.008],[-6.5,-0.075],[-4.4,-0.075],[-6.3,0.042],[-4.4,0.038],[-3.7,-0.256],[-3.4,0.143],[-2.6,0.124],[-3.0,0.061],[-2.4,0.008],[-2.2,-0.015],[-1.4,-0.034],[-0.5,-0.012],[-1.4,0.083],[-0.5,0.063],[0.4,0.058],[-0.9,-0.109],[-0.5,-0.193],[0.4,-0.088],[1.1,0.021],[1.6,0.0],[2.4,-0.005],[1.4,-0.159],[2.4,-0.130],[1.6,-0.109],[2.0,0.126],[2.6,0.099],[2.6,0.189],[3.3,0.205],[3.3,0.067],[3.9,0.048],[3.3,0.149],[4.5,0.143],[3.9,-0.138],[3.9,-0.147],[4.9,-0.115],[5.2,-0.037],[5.8,-0.050],[5.2,-0.191],[6.4,0.121],[7.1,0.121],[7.9,0.117],[6.7,0.029],[6.7,-0.206],[8.3,-0.222],[7.4,-0.078],[7.9,-0.052],[7.4,0.067],[8.3,0.061],[9.0,-0.017],[9.6,-0.034],[10.2,-0.276],[10.6,0.139],[10.9,0.067],[11.5,0.067],[11.9,-0.109],[12.8,0.126],[13.4,0.130],[14.0,0.149],[12.5,-0.122],[14.0,0.055],[14.7,0.033],[15.0,-0.005],[15.0,-0.025],[14.7,-0.071],[14.7,-0.090],[16.6,0.109],[17.2,0.036],[17.0,-0.128],[17.6,-0.128],[17.8,-0.062],[18.8,-0.055],[19.8,-0.115],[20.8,0.067],[21.0,0.143],[21.4,0.187],[21.7,-0.021],[22.3,-0.040],[22.7,0.092],[23.2,0.099],[23.6,0.021],[23.9,-0.100],[24.8,-0.109],[24.8,0.105],[26.7,-0.005],[26.7,-0.059],[26.7,-0.071],[27.7,0.130],[27.7,-0.113],[28.6,0.017],[30.3,-0.005],[31.8,-0.005],[30.8,0.187],[30.8,-0.118],[32.4,-0.075],[32.8,-0.140],[33.7,0.096],[34.3,0.017],[34.9,-0.008],[34.7,0.155],[35.6,0.051],[36.9,0.114],[37.5,0.114],[37.5,0.0],[37.9,-0.042],[39.2,-0.103],[39.7,-0.088],[40.0,0.036],[41.3,0.023],[40.7,-0.042],[41.3,-0.059],[41.9,0.076],[43.8,0.061],[42.6,0.0],[43.2,0.017],[43.8,-0.080],[44.5,0.099],[46.0,0.124],[45.1,0.092],[46.7,-0.052],[48.0,-0.071],[48.9,-0.071],[48.3,0.033],[48.9,0.067],[49.8,0.109],[50.8,0.029],[56.9,-0.027],[57.8,0.111],[57.8,0.092],[59.0,0.038],[60.7,-0.050],[63.7,0.023],[67.9,-0.042],[70.8,0.038]];

const fitH = [[-102.6,0.026],[-50,0.020],[0,0.016],[70.8,0.011]];

const pointsI = [[-33.0,0.148],[-26.5,0.12],[-17.1,0.043],[-16.6,0.0],[-11.5,0.105],[-5.4,0.071],[-4.6,0.043],[-4.8,0.009],[-5.4,-0.048],[-4.2,-0.12],[-2.9,-0.063],[-1.2,-0.02],[-0.9,-0.077],[-0.7,0.0],[-0.5,-0.043],[-0.3,-0.085],[-0.9,-0.234],[0.4,-0.122],[0.6,0.014],[0.9,0.071],[1.2,-0.009],[1.4,0.0],[1.0,0.19],[1.4,-0.077],[3.1,-0.071],[4.3,-0.205],[4.7,-0.028],[4.8,-0.043],[4.8,-0.085],[5.0,0.077],[5.4,-0.066],[7.3,0.006],[16.9,-0.023],[17.4,0.1],[27.9,0.12],[33.1,-0.122],[0.1,0.27],[-0.2,0.03],[0.2,-0.05],[0.3,0.05],[-0.4,0.02],[0.5,-0.03]];

const fitI = [[-33,0.148],[-11.4,0.134],[-0.9,0.128],[-0.3,0.13],[-0.1,0.81],[0.05,-0.55],[0.2,0.10],[0.6,0.114],[4.6,0.128],[5.6,0.18],[7.4,0.20],[14.8,0.21],[25.2,0.214],[33.1,0.191]];

const pointsJ = [[-32.6,0.157],[-26.1,-0.211],[-16.7,0.131],[-16.7,0.111],[-11.4,0.017],[-7.4,0.119],[-5.3,0.06],[-5.3,-0.1],[-4.5,-0.096],[-4.5,0.02],[-4.1,-0.06],[-2.8,0.004],[-1.2,0.21],[-1.1,-0.097],[-0.8,-0.13],[-0.5,0.019],[-0.4,0.079],[-0.2,0.1],[-0.6,-0.007],[-0.4,-0.029],[0.3,-0.114],[0.4,0.036],[0.5,0.014],[0.7,-0.007],[0.8,-0.017],[0.8,-0.05],[1.0,0.217],[1.3,0.071],[3.2,0.007],[4.5,-0.096],[4.7,0.051],[5.0,0.049],[4.8,0.15],[5.4,0.104],[7.4,-0.111],[16.7,-0.084],[17.3,-0.004],[27.6,0.19],[32.7,0.069],[0.1,0.18],[0.2,0.13],[-0.1,-0.27]];

const fitJ = [[-32.6,0.157],[-16.7,0.131],[-7.4,0.103],[-5.3,0.093],[-4.6,0.06],[-4.0,0.05],[-2.7,0.036],[-1.4,0.026],[-0.9,-0.014],[-0.4,-0.08],[-0.15,-0.2],[0,-0.33],[0.05,0.357],[0.15,0.06],[0.5,0.07],[1.45,0.103],[4.3,0.114],[5.1,0.143],[7.4,0.169],[16.7,0.193],[17.3,0.214],[32.5,0.224]];

// --------------- BUILD ---------------
const fromColumns = cols => cols.flatMap(([x, ys]) => ys.map(y => [x, y]));
const pointsC = fromColumns(columnsC);
const pointsD = fromColumns(columnsD);

const panels = [
  {pts: pointsA, fit: fitA, xd: xDomainAB, yd: yDomainMain, xt: xTicksAB, yt: yTicksMain},
  {pts: pointsB, fit: fitB, xd: xDomainAB, yd: yDomainMain, xt: xTicksAB, yt: yTicksMain},
  {pts: pointsC, fit: fitC, xd: xDomainCD, yd: yDomainMain, xt: xTicksCD, yt: yTicksMain},
  {pts: pointsD, fit: fitD, xd: xDomainCD, yd: yDomainMain, xt: xTicksCD, yt: yTicksMain},
  {pts: pointsE, fit: fitE, xd: xDomainEF, yd: yDomainMain, xt: xTicksEF, yt: yTicksMain},
  {pts: pointsF, fit: fitF, xd: xDomainEF, yd: yDomainMain, xt: xTicksEF, yt: yTicksMain},
  {pts: pointsG, fit: fitG, xd: xDomainGH, yd: yDomainMain, xt: xTicksGH, yt: yTicksMain},
  {pts: pointsH, fit: fitH, xd: xDomainGH, yd: yDomainMain, xt: xTicksGH, yt: yTicksMain},
  {pts: pointsI, fit: fitI, xd: xDomainI, yd: yDomainI, xt: xTicksIJ, yt: yTicksI},
  {pts: pointsJ, fit: fitJ, xd: xDomainJ, yd: yDomainJ, xt: xTicksIJ, yt: yTicksJ}
];

const W = 1418, H = 1369;
const colX = [43, 763], colW = [654, 653];
const rowY = [33, 317, 600, 883, 1166];
const PH = 180;
const tickFont = "'DejaVu Sans', Verdana, sans-serif";
const fmt = d => (d < 0 ? "\u2212" : "") + Math.abs(d);

const svg = d3.select("body").append("svg").attr("width", W).attr("height", H)
  .style("background", "#fff");

panels.forEach((p, i) => {
  const col = i % 2, row = Math.floor(i / 2);
  const w = colW[col];
  const g = svg.append("g").attr("transform", `translate(${colX[col]},${rowY[row]})`);
  const x = d3.scaleLinear().domain(p.xd).range([0, w]);
  const y = d3.scaleLinear().domain(p.yd).range([PH, 0]);

  // title
  g.append("text").attr("x", w / 2).attr("y", -13).attr("text-anchor", "middle")
    .attr("font-family", "'Liberation Serif', 'DejaVu Serif', serif")
    .attr("font-style", "italic").attr("font-weight", "bold").attr("font-size", 22)
    .attr("fill", "#000").text(titles[i]);

  // points
  g.append("g").selectAll("circle").data(p.pts).join("circle")
    .attr("cx", d => x(d[0])).attr("cy", d => y(d[1])).attr("r", 2.7)
    .attr("fill", "#474747");

  // fitted line
  g.append("path").datum(p.fit)
    .attr("d", d3.line().x(d => x(d[0])).y(d => y(d[1])))
    .attr("fill", "none").attr("stroke", "#ff0000").attr("stroke-width", 5.5)
    .attr("stroke-linejoin", "round");

  // frame
  g.append("rect").attr("x", 0).attr("y", 0).attr("width", w).attr("height", PH)
    .attr("fill", "none").attr("stroke", "#000").attr("stroke-width", 2);

  // R2 label
  g.append("text").attr("x", 22).attr("y", 35)
    .attr("font-family", tickFont).attr("font-size", 22.5).attr("fill", "#000")
    .text(r2Labels[i]);

  // axes
  const ax = g.append("g").attr("transform", `translate(0,${PH})`)
    .call(d3.axisBottom(x).tickValues(p.xt).tickSize(0).tickPadding(9).tickFormat(fmt));
  ax.select(".domain").remove();
  ax.attr("font-family", tickFont).attr("font-size", 15.5);
  ax.selectAll("text").attr("fill", "#000");

  const ay = g.append("g")
    .call(d3.axisLeft(y).tickValues(p.yt).tickSize(0).tickPadding(6).tickFormat(fmt));
  ay.select(".domain").remove();
  ay.attr("font-family", tickFont).attr("font-size", 15.5);
  ay.selectAll("text").attr("fill", "#000");
});
</script>
</body></html>
